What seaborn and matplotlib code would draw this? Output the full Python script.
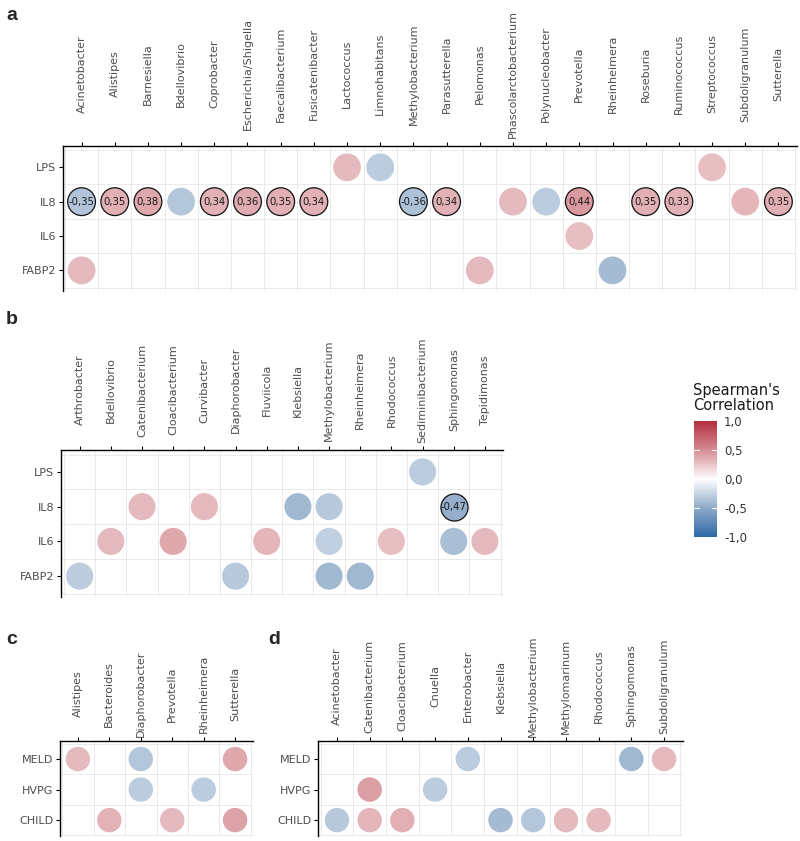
import numpy as np
import pandas as pd
import matplotlib
matplotlib.use("Agg")
import matplotlib.pyplot as plt
from matplotlib.colors import LinearSegmentedColormap, Normalize
import seaborn as sns

sns.set_theme(style="white")
plt.rcParams['font.family'] = ['DejaVu Sans']

# ---------------- data ----------------
a_genera = ["Acinetobacter", "Alistipes", "Barnesiella", "Bdellovibrio", "Coprobacter",
            "Escherichia/Shigella", "Faecalibacterium", "Fusicatenibacter", "Lactococcus",
            "Limnohabitans", "Methylobacterium", "Parasutterella", "Pelomonas",
            "Phascolarctobacterium", "Polynucleobacter", "Prevotella", "Rheinheimera",
            "Roseburia", "Ruminococcus", "Streptococcus", "Subdoligranulum", "Sutterella"]
a_markers = ["LPS", "IL8", "IL6", "FABP2"]
a_x = ["Lactococcus", "Limnohabitans", "Streptococcus",
       "Acinetobacter", "Alistipes", "Barnesiella", "Bdellovibrio", "Coprobacter",
       "Escherichia/Shigella", "Faecalibacterium", "Fusicatenibacter", "Methylobacterium",
       "Parasutterella", "Phascolarctobacterium", "Polynucleobacter", "Prevotella",
       "Roseburia", "Ruminococcus", "Subdoligranulum", "Sutterella",
       "Prevotella",
       "Acinetobacter", "Pelomonas", "Rheinheimera"]
a_y = ["LPS"] * 3 + ["IL8"] * 17 + ["IL6"] + ["FABP2"] * 3
a_r = [0.30, -0.30, 0.28,
       -0.35, 0.35, 0.38, -0.33, 0.34, 0.36, 0.35, 0.34, -0.36, 0.34, 0.30, -0.30, 0.44,
       0.35, 0.33, 0.32, 0.35,
       0.28,
       0.30, 0.30, -0.40]
a_sig = [0, 0, 0,
         1, 1, 1, 0, 1, 1, 1, 1, 1, 1, 0, 0, 1, 1, 1, 0, 1,
         0,
         0, 0, 0]

b_genera = ["Arthrobacter", "Bdellovibrio", "Catenibacterium", "Cloacibacterium", "Curvibacter",
            "Diaphorobacter", "Fluviicola", "Klebsiella", "Methylobacterium", "Rheinheimera",
            "Rhodococcus", "Sediminibacterium", "Sphingomonas", "Tepidimonas"]
b_markers = ["LPS", "IL8", "IL6", "FABP2"]
b_x = ["Sediminibacterium",
       "Catenibacterium", "Curvibacter", "Klebsiella", "Methylobacterium", "Sphingomonas",
       "Bdellovibrio", "Cloacibacterium", "Fluviicola", "Methylobacterium", "Rhodococcus",
       "Sphingomonas", "Tepidimonas",
       "Arthrobacter", "Diaphorobacter", "Methylobacterium", "Rheinheimera"]
b_y = ["LPS"] + ["IL8"] * 5 + ["IL6"] * 7 + ["FABP2"] * 4
b_r = [-0.30,
       0.30, 0.30, -0.42, -0.32, -0.47,
       0.30, 0.38, 0.32, -0.28, 0.28, -0.38, 0.30,
       -0.30, -0.32, -0.42, -0.42]
b_sig = [0, 0, 0, 0, 0, 1, 0, 0, 0, 0, 0, 0, 0, 0, 0, 0, 0]

c_genera = ["Alistipes", "Bacteroides", "Diaphorobacter", "Prevotella", "Rheinheimera", "Sutterella"]
c_markers = ["MELD", "HVPG", "CHILD"]
c_x = ["Alistipes", "Diaphorobacter", "Sutterella",
       "Diaphorobacter", "Rheinheimera",
       "Bacteroides", "Prevotella", "Sutterella"]
c_y = ["MELD"] * 3 + ["HVPG"] * 2 + ["CHILD"] * 3
c_r = [0.30, -0.33, 0.38, -0.30, -0.30, 0.33, 0.30, 0.40]
c_sig = [0] * 8

d_genera = ["Acinetobacter", "Catenibacterium", "Cloacibacterium", "Cnuella", "Enterobacter",
            "Klebsiella", "Methylobacterium", "Methylomarinum", "Rhodococcus", "Sphingomonas",
            "Subdoligranulum"]
d_markers = ["MELD", "HVPG", "CHILD"]
d_x = ["Enterobacter", "Sphingomonas", "Subdoligranulum",
       "Catenibacterium", "Cnuella",
       "Acinetobacter", "Catenibacterium", "Cloacibacterium", "Klebsiella",
       "Methylobacterium", "Methylomarinum", "Rhodococcus"]
d_y = ["MELD"] * 3 + ["HVPG"] * 2 + ["CHILD"] * 7
d_r = [-0.30, -0.42, 0.30, 0.42, -0.30, -0.32, 0.32, 0.35, -0.40, -0.33, 0.30, 0.30]
d_sig = [0] * 12

cbar_ticks = [-1.0, -0.5, 0.0, 0.5, 1.0]

# ---------------- styling ----------------
cmap = LinearSegmentedColormap.from_list(
    "corr",
    [(0.0, "#2C68A6"), (0.25, "#8FAAC8"), (0.5, "#FFFFFF"), (0.75, "#D48C93"), (1.0, "#B52E40")])
norm = Normalize(-1, 1)
W, H = 800, 841
fig = plt.figure(figsize=(W / 100, H / 100), dpi=100)
TXT = "#4D4D4D"


def fr(x0, y0, x1, y1):
    return [x0 / W, 1 - y1 / H, (x1 - x0) / W, (y1 - y0) / H]


def panel(rect, genera, markers, xs, ys, rs, sig, xlim, ylim, size, letter, lpos, center_px):
    ax = fig.add_axes(fr(*rect))
    df = pd.DataFrame({"genus": xs, "marker": ys, "r": rs, "sig": sig})
    df["xi"] = pd.Categorical(df["genus"], categories=genera).codes
    df["yi"] = pd.Categorical(df["marker"], categories=markers).codes
    for k in range(len(genera) + 1):
        ax.axvline(k - 0.5, color="#E6E6E6", lw=0.6, zorder=0)
    for k in range(len(markers) + 1):
        ax.axhline(k - 0.5, color="#E6E6E6", lw=0.6, zorder=0)
    ns = df[df["sig"] == 0]
    ss = df[df["sig"] == 1]
    sns.scatterplot(data=ns, x="xi", y="yi", hue="r", palette=cmap, hue_norm=norm,
                    s=size, linewidth=0, edgecolor="none", legend=False, ax=ax, zorder=3)
    if len(ss):
        sns.scatterplot(data=ss, x="xi", y="yi", hue="r", palette=cmap, hue_norm=norm,
                        s=size, linewidth=0.9, edgecolor="#111111", legend=False, ax=ax,
                        zorder=4)
        for _, row in ss.iterrows():
            ax.text(row["xi"], row["yi"], f"{row['r']:.2f}".replace(".", ","),
                    ha="center", va="center", fontsize=7.3, color="#1a1a1a", zorder=5)
    ax.set_xlim(*xlim)
    ax.set_ylim(*ylim)
    ax.set_xticks(range(len(genera)))
    ax.set_xticklabels(genera, rotation=90, fontsize=8, color=TXT)
    ax.set_yticks(range(len(markers)))
    ax.set_yticklabels(markers, fontsize=8, color=TXT)
    pad_pt = (center_px - 4.17) * 0.72
    ax.tick_params(axis="x", length=3, width=0.8, color="black", pad=pad_pt,
                   top=True, bottom=False, labeltop=True, labelbottom=False)
    ax.tick_params(axis="y", length=3, width=0.8, color="black", pad=2, left=True)
    for lbl in ax.get_xticklabels():
        lbl.set_verticalalignment("center")
        lbl.set_horizontalalignment("center")
    ax.set_xlabel("")
    ax.set_ylabel("")
    for side in ["right", "bottom"]:
        ax.spines[side].set_visible(False)
    for side in ["top", "left"]:
        ax.spines[side].set_color("black")
        ax.spines[side].set_linewidth(1.0)
    ax.set_facecolor("white")
    fig.text(lpos[0] / W, 1 - lpos[1] / H, letter, fontsize=14, fontweight="bold",
             family="Liberation Sans", ha="left", va="center")
    return ax


panel((63, 146, 797, 291), a_genera, a_markers, a_x, a_y, a_r, a_sig,
      (-0.56, 21.56), (3.6, -0.62), 400, "a", (6, 15), 72)
panel((61, 450, 503, 597), b_genera, b_markers, b_x, b_y, b_r, b_sig,
      (-0.6, 13.58), (3.6, -0.63), 380, "b", (6, 320), 60)
panel((60, 741, 253, 836), c_genera, c_markers, c_x, c_y, c_r, c_sig,
      (-0.57, 5.57), (2.52, -0.59), 310, "c", (6, 640), 47)
panel((318, 741, 683, 836), d_genera, d_markers, d_x, d_y, d_r, d_sig,
      (-0.58, 10.58), (2.52, -0.59), 310, "d", (268, 640), 55)

# colorbar
cax = fig.add_axes(fr(694, 421, 717, 537))
sm = plt.cm.ScalarMappable(cmap=cmap, norm=norm)
cb = fig.colorbar(sm, cax=cax, ticks=cbar_ticks)
cb.outline.set_visible(False)
cb.ax.set_yticklabels([f"{t:.1f}".replace(".", ",") for t in cbar_ticks], fontsize=8.5,
                      color="#333333")
cb.ax.tick_params(length=0, pad=5)
for t in [-0.5, 0.5]:
    cax.axhline(t, xmin=0, xmax=0.2, color="white", lw=0.8)
    cax.axhline(t, xmin=0.8, xmax=1, color="white", lw=0.8)
fig.text(693 / W, 1 - 398 / H, "Spearman's\nCorrelation", fontsize=10.5, ha="left",
         va="center", linespacing=1.0, color="#1a1a1a")

fig.savefig("out.png", dpi=100, facecolor="white")
